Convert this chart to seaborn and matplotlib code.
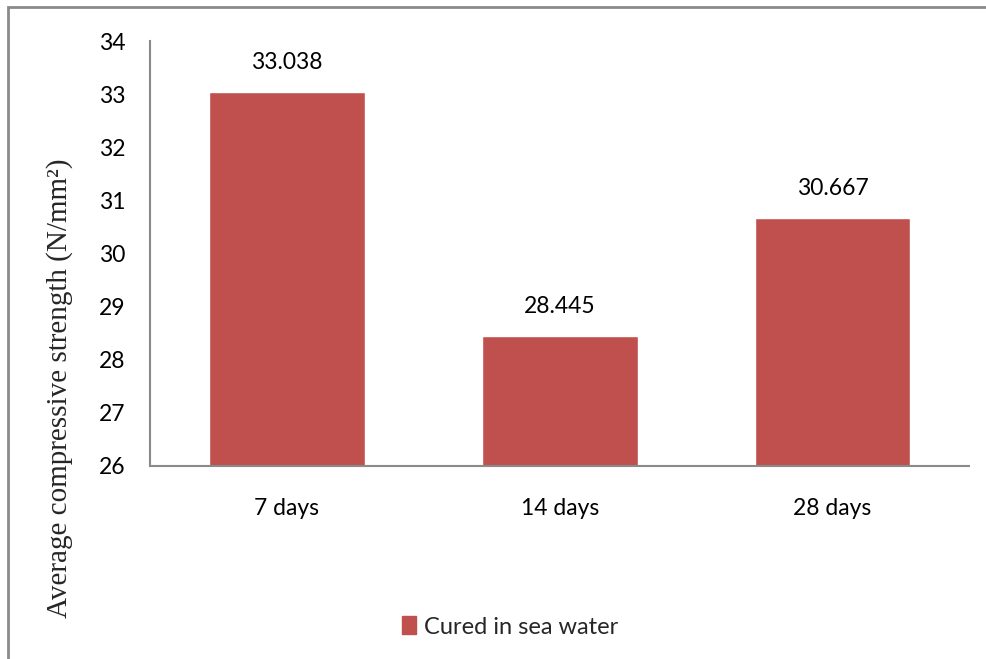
import matplotlib
matplotlib.use("Agg")
import matplotlib.pyplot as plt
import seaborn as sns
import pandas as pd
from matplotlib.patches import Rectangle

categories = ["7 days", "14 days", "28 days"]
strength = [33.038, 28.445, 30.667]
series_name = "Cured in sea water"
y_ticks = [26, 27, 28, 29, 30, 31, 32, 33, 34]

df = pd.DataFrame({"age": categories, "strength": strength,
                   "series": [series_name] * len(categories)})

sns.set_theme(style="white")
plt.rcParams["font.family"] = ["Lato", "DejaVu Sans"]

fig = plt.figure(figsize=(9.87, 6.59), dpi=100)
ax = fig.add_axes([150.5 / 987, 1 - 466 / 659, (969 - 150.5) / 987, (466 - 41) / 659])

sns.barplot(data=df, x="age", y="strength", hue="series", palette=["#C0504D"],
            width=0.57, dodge=False, ax=ax, saturation=1, legend=True)

ax.set_ylim(26, 34)
ax.set_yticks(y_ticks)
ax.set_xlim(-0.5, 2.5)
ax.set_xlabel("")
ax.set_ylabel("")
for s in ["top", "right"]:
    ax.spines[s].set_visible(False)
for s in ["left", "bottom"]:
    ax.spines[s].set_color("#8a8a8a")
    ax.spines[s].set_linewidth(1.5)
ax.tick_params(axis="y", length=0, pad=18, labelsize=16.5, labelcolor="black")
ax.tick_params(axis="x", length=0, pad=23, labelsize=16.5, labelcolor="black")

for c in ax.containers:
    ax.bar_label(c, fmt="%.3f", padding=14, fontsize=16.5, color="black")

leg = ax.get_legend()
if leg is not None:
    leg.remove()
handles = [Rectangle((0, 0), 1, 1, color="#C0504D")]
fig.legend(handles, [series_name], loc="center", bbox_to_anchor=(510 / 987, 1 - 627 / 659),
           frameon=False, fontsize=17, handlelength=0.6, handleheight=0.8,
           handletextpad=0.35)

fig.text(60 / 987, 1 - 388 / 659, "Average compressive strength (N/mm²)",
         rotation=90, ha="center", va="center", fontsize=21,
         family=["Liberation Serif", "DejaVu Serif"])

frame = Rectangle((8 / 987, -0.05), 1.1, 1 - 7 / 659 + 0.05, transform=fig.transFigure,
                  fill=False, edgecolor="#8a8a8a", linewidth=2, clip_on=False)
fig.patches.append(frame)

fig.savefig("out.png", dpi=100)
